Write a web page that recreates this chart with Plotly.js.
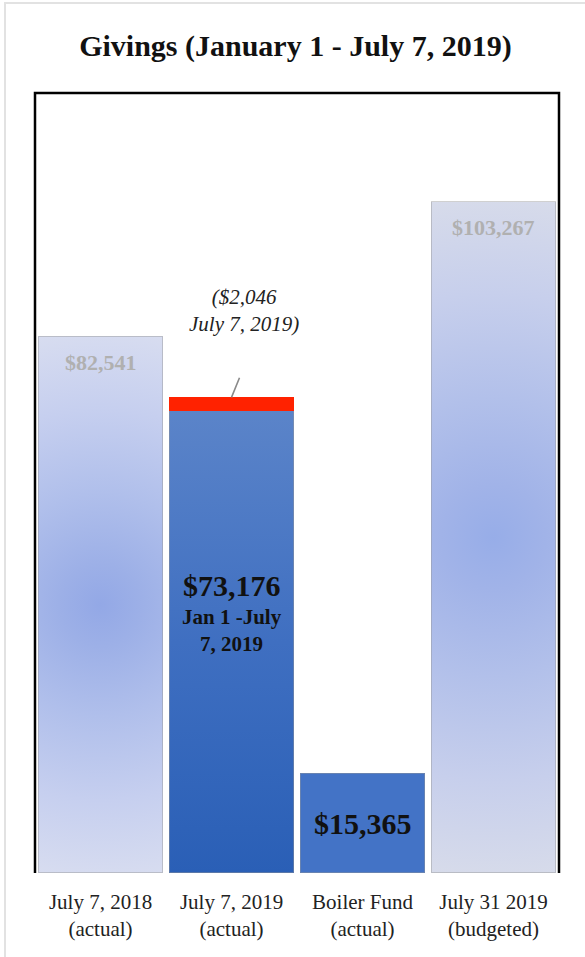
<!DOCTYPE html>
<html>
<head>
<meta charset="utf-8">
<script src="https://cdn.plot.ly/plotly-3.0.1.min.js"></script>
<style>
  html, body { margin: 0; padding: 0; background: #ffffff; }
  #wrap { position: relative; width: 585px; height: 957px; overflow: hidden; }
  #chart { width: 585px; height: 957px; }
  #edge { position: absolute; left: 4px; top: 2px; right: -10px; bottom: -10px;
          border-top: 2px solid #e2e2e2; border-left: 2px solid #e2e2e2; pointer-events: none; }
</style>
</head>
<body>
<div id="wrap">
  <div id="chart"></div>
  <div id="edge"></div>
</div>
<script>
// ---- data ----
const categories = [
  'July 7, 2018<br>(actual)',
  'July 7, 2019<br>(actual)',
  'Boiler Fund<br>(actual)',
  'July 31 2019<br>(budgeted)'
];
const givings = [82541, 73176, 15365, 103267];
const shortfall = [0, 2046, 0, 0];
const valueLabels = ['$82,541', '$73,176', '$15,365', '$103,267'];
const shortfallLabel = '($2,046<br>July 7, 2019)';
const periodLabel = 'Jan 1 -July<br>7, 2019';
const chartTitle = 'Givings (January 1 - July 7, 2019)';

const baseValues = givings.map((v, i) => v - shortfall[i]);

const serif = 'Liberation Serif, DejaVu Serif, serif';

const traces = [
  {
    type: 'bar',
    x: categories,
    y: baseValues,
    marker: {
      color: ['#b9c5ec', '#4673c4', '#4373c6', '#b9c5ec'],
      line: { color: 'rgba(150,150,150,0.45)', width: 1.2 }
    },
    hoverinfo: 'skip',
    showlegend: false
  },
  {
    type: 'bar',
    x: categories,
    y: shortfall,
    marker: { color: '#ff2200', line: { width: 0 } },
    hoverinfo: 'skip',
    showlegend: false
  }
];

const annotations = [
  { x: categories[0], y: givings[0], text: '<b>' + valueLabels[0] + '</b>', showarrow: false,
    yanchor: 'middle', yshift: -26, font: { family: serif, size: 22, color: '#b0b0b0' } },
  { x: categories[3], y: givings[3], text: '<b>' + valueLabels[3] + '</b>', showarrow: false,
    yanchor: 'middle', yshift: -26, font: { family: serif, size: 22, color: '#b0b0b0' } },
  { x: categories[1], y: givings[1] * 0.605, text: '<b>' + valueLabels[1] + '</b>', showarrow: false,
    yanchor: 'middle', font: { family: serif, size: 30, color: '#111111' } },
  { x: categories[1], y: givings[1] * 0.568, text: '<b>' + periodLabel + '</b>', showarrow: false,
    yanchor: 'top', font: { family: serif, size: 21, color: '#111111' } },
  { x: categories[2], y: givings[2] * 0.5, text: '<b>' + valueLabels[2] + '</b>', showarrow: false,
    yanchor: 'middle', font: { family: serif, size: 30, color: '#111111' } },
  { x: categories[1], y: givings[1], text: '<i>' + shortfallLabel + '</i>', showarrow: false,
    yanchor: 'bottom', yshift: 59, xshift: 12, font: { family: serif, size: 21, color: '#222222' } },
  { x: categories[1], y: givings[1], text: ' ', showarrow: true, arrowhead: 0, arrowwidth: 1.6,
    arrowcolor: '#8a8a8a', ax: 11, ay: -27, standoff: 0, startstandoff: 0 }
];

const layout = {
  width: 585,
  height: 957,
  paper_bgcolor: '#ffffff',
  plot_bgcolor: '#ffffff',
  margin: { l: 35, r: 26, t: 93, b: 84, pad: 0 },
  barmode: 'stack',
  bargap: 0.05,
  title: {
    text: '<b>' + chartTitle + '</b>',
    font: { family: serif, size: 30, color: '#111111' },
    x: 0.505, xanchor: 'center',
    y: 1 - 45 / 957, yref: 'container', yanchor: 'middle'
  },
  xaxis: {
    type: 'category',
    showgrid: false, zeroline: false, showline: false, ticks: '',
    ticklabelstandoff: 14,
    tickfont: { family: serif, size: 21, color: '#222222' },
    fixedrange: true
  },
  yaxis: {
    range: [0, 120000],
    showgrid: false, zeroline: false, showline: false, showticklabels: false, ticks: '',
    fixedrange: true
  },
  shapes: [
    { type: 'path', xref: 'paper', yref: 'paper', path: 'M 0 0 L 0 1 L 1 1 L 1 0',
      line: { color: '#000000', width: 2.5 }, layer: 'above' }
  ],
  annotations: annotations,
  showlegend: false
};

Plotly.newPlot('chart', traces, layout, { displayModeBar: false, staticPlot: true }).then(applyGradients);

function applyGradients(gd) {
  const ns = 'http://www.w3.org/2000/svg';
  const svg = gd.querySelector('.main-svg');
  let defs = svg.querySelector('defs');
  if (!defs) { defs = document.createElementNS(ns, 'defs'); svg.insertBefore(defs, svg.firstChild); }
  const traceGroups = gd.querySelectorAll('.barlayer .trace');
  if (!traceGroups.length) return;
  const paths = traceGroups[0].querySelectorAll('.point path');

  function addStops(g, stops) {
    stops.forEach(s => {
      const st = document.createElementNS(ns, 'stop');
      st.setAttribute('offset', s[0]);
      st.setAttribute('stop-color', s[1]);
      g.appendChild(st);
    });
  }
  function radial(id, path, stops) {
    const bb = path.getBBox();
    const g = document.createElementNS(ns, 'radialGradient');
    g.setAttribute('id', id);
    g.setAttribute('gradientUnits', 'userSpaceOnUse');
    g.setAttribute('cx', bb.x + bb.width / 2);
    g.setAttribute('cy', bb.y + bb.height / 2);
    g.setAttribute('r', bb.height * 0.52);
    addStops(g, stops);
    defs.appendChild(g);
    path.style.fill = 'url(#' + id + ')';
  }
  function linear(id, path, stops) {
    const g = document.createElementNS(ns, 'linearGradient');
    g.setAttribute('id', id);
    g.setAttribute('x1', 0); g.setAttribute('y1', 0);
    g.setAttribute('x2', 0); g.setAttribute('y2', 1);
    addStops(g, stops);
    defs.appendChild(g);
    path.style.fill = 'url(#' + id + ')';
  }

  if (paths[0]) radial('gradBar1', paths[0], [[0, '#93a8e6'], [0.15, '#9db0e7'], [0.4, '#b0bfeb'], [0.7, '#c6cfef'], [1, '#d8ddf0']]);
  if (paths[1]) linear('gradBar2', paths[1], [[0, '#5b84c9'], [0.5, '#3f6fc1'], [1, '#2a5fb6']]);
  if (paths[3]) radial('gradBar4', paths[3], [[0, '#97ade8'], [0.15, '#a1b3e8'], [0.4, '#b2c0ea'], [0.7, '#c7cfec'], [1, '#d8dcea']]);
}
</script>
</body>
</html>
